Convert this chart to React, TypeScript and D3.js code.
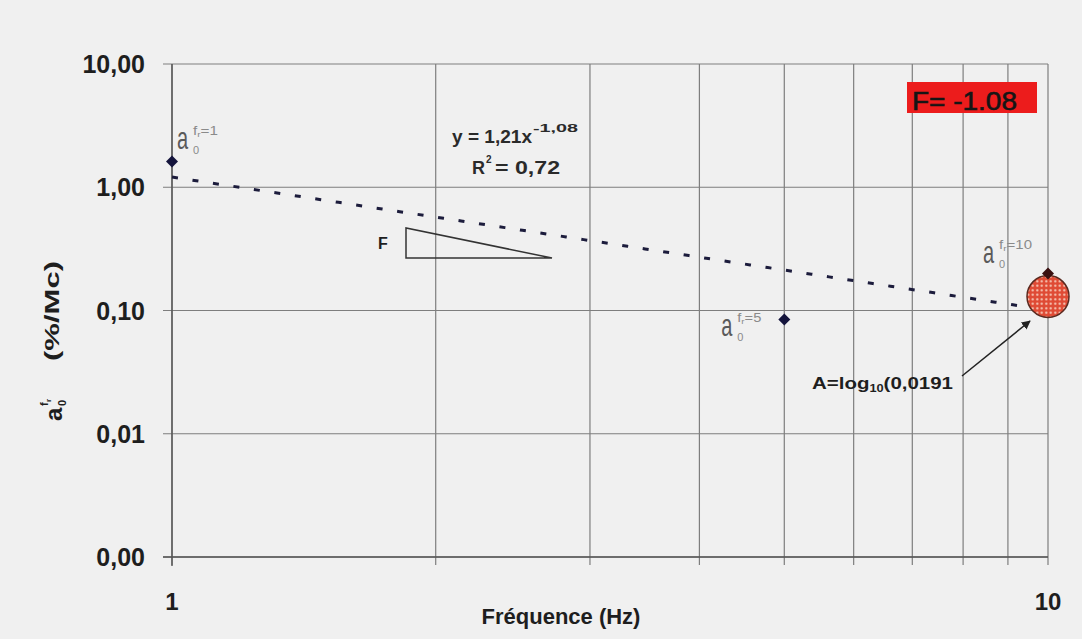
import React from "react";
import * as d3 from "d3";

const W = 1082;
const H = 639;

// Data
const frequencies = [1, 5, 10];
const amplitudes = [1.62, 0.0845, 0.2];
const pointLabels = ["1", "5", "10"];
const yTickValues = [10, 1, 0.1, 0.01, 0.001];
const yTickLabels = ["10,00", "1,00", "0,10", "0,01", "0,00"];
const xGridValues = [1, 2, 3, 4, 5, 6, 7, 8, 9, 10];
const xTickValues = [1, 10];
const xTickLabels = ["1", "10"];
const trendCoef = 1.21;
const trendExp = -1.08;
const circleValue = 0.13;

const FONT = "'Liberation Sans', Arial, sans-serif";

export default function App() {
  const left = 172, right = 1048, top = 64, bottom = 557;
  const x = d3.scaleLog().domain([1, 10]).range([left, right]);
  const y = d3.scaleLog().domain([0.001, 10]).range([bottom, top]);

  const trendX = d3.range(0, 101).map((i) => Math.pow(10, i / 100));
  const trendLine = d3
    .line<number>()
    .x((d) => x(d))
    .y((d) => y(trendCoef * Math.pow(d, trendExp)));

  // offset of the "a" label (left edge, baseline) relative to its point
  const labelOffsets: Record<string, [number, number]> = {
    "1": [5, -12],
    "5": [-63, 16],
    "10": [-65, -10],
  };
  const supWidths: Record<string, number> = { "1": 25, "5": 24, "10": 33 };

  const diamond = (cx: number, cy: number, r: number) =>
    `M${cx},${cy - r}L${cx + r},${cy}L${cx},${cy + r}L${cx - r},${cy}Z`;

  const cx10 = x(10);
  const cy10 = y(circleValue);

  return (
    <svg width={W} height={H} style={{ position: "absolute", left: 0, top: 0, display: "block" }}>
      <defs>
        <pattern id="dots" width="4.5" height="4.5" patternUnits="userSpaceOnUse">
          <rect width="4.5" height="4.5" fill="#df4a34" />
          <circle cx="2.25" cy="2.25" r="1.1" fill="#f7d0c0" />
        </pattern>
        <marker id="arr" viewBox="0 0 10 10" refX="9" refY="5" markerWidth="6" markerHeight="6" orient="auto">
          <path d="M0,0L10,5L0,10Z" fill="#222" />
        </marker>
      </defs>
      <rect width={W} height={H} fill="#f0f0f0" />

      {/* grid */}
      {yTickValues.map((v, i) => (
        <line key={"h" + i} x1={left - 9} x2={right} y1={y(v)} y2={y(v)} stroke="#7e7e7e" strokeWidth={1.2} />
      ))}
      {xGridValues.map((v, i) => (
        <line key={"v" + i} x1={x(v)} x2={x(v)} y1={top} y2={bottom + 8} stroke="#7e7e7e" strokeWidth={1.2} />
      ))}
      <line x1={left} x2={left} y1={top} y2={bottom + 9} stroke="#555" strokeWidth={1.4} />
      <line x1={left - 9} x2={right} y1={bottom} y2={bottom} stroke="#555" strokeWidth={1.4} />

      {/* y tick labels */}
      {yTickValues.map((v, i) => (
        <text key={"yt" + i} x={145} y={y(v) + 9} textAnchor="end" fontFamily={FONT} fontWeight="bold" fontSize={25} fill="#1e1e1e">
          {yTickLabels[i]}
        </text>
      ))}
      {/* x tick labels */}
      {xTickValues.map((v, i) => (
        <text key={"xt" + i} x={x(v)} y={610} textAnchor="middle" fontFamily={FONT} fontWeight="bold" fontSize={24} fill="#1e1e1e">
          {xTickLabels[i]}
        </text>
      ))}

      {/* axis titles */}
      <text x={561} y={624} textAnchor="middle" fontFamily={FONT} fontWeight="bold" fontSize={22} fill="#1e1e1e">
        Fréquence (Hz)
      </text>
      <g transform="translate(62,421) rotate(-90)" fontFamily={FONT} fontWeight="bold" fill="#1e1e1e">
        <text x={0} y={0} fontSize={24}>a</text>
        <text x={15} y={-14} fontSize={11}>f</text>
        <text x={19} y={-11} fontSize={8}>r</text>
        <text x={15} y={4} fontSize={11}>0</text>
        <text x={60} y={-3} fontSize={21} textLength={100} lengthAdjust="spacingAndGlyphs">(%/Mc)</text>
      </g>

      {/* trend line */}
      <path d={trendLine(trendX) || ""} fill="none" stroke="#1c1c3c" strokeWidth={3} strokeDasharray="6,14.7" />

      {/* triangle */}
      <path d="M406,228L406,258L552,258Z" fill="none" stroke="#333" strokeWidth={1.5} />
      <text x={378} y={249} fontFamily={FONT} fontWeight="bold" fontSize={16} fill="#1e1e1e">F</text>

      {/* equation */}
      <g fontFamily={FONT} fontWeight="bold" fill="#2a2a2a">
        <text x={452} y={143} fontSize={18} textLength={80} lengthAdjust="spacingAndGlyphs">y = 1,21x</text>
        <text x={533} y={132} fontSize={10} textLength={45} lengthAdjust="spacingAndGlyphs">-1,08</text>
        <text x={472} y={174} fontSize={18} textLength={13} lengthAdjust="spacingAndGlyphs">R</text>
        <text x={486} y={163} fontSize={10}>2</text>
        <text x={495} y={174} fontSize={18} textLength={65} lengthAdjust="spacingAndGlyphs">= 0,72</text>
      </g>

      {/* circle highlight */}
      <circle cx={cx10} cy={cy10} r={21} fill="url(#dots)" stroke="#5a2a20" strokeWidth={1.5} />

      {/* points */}
      {frequencies.map((f, i) => (
        <path key={"p" + i} d={diamond(x(f), y(amplitudes[i]), 6)} fill={i === 2 ? "#3a1010" : "#14143c"} />
      ))}

      {/* point labels */}
      {frequencies.map((f, i) => {
        const k = pointLabels[i];
        const [dx, dy] = labelOffsets[k];
        const ax = x(f) + dx;
        const ab = y(amplitudes[i]) + dy;
        return (
          <g key={"l" + i} fontFamily={FONT}>
            <g transform={`translate(${ax},${ab}) scale(1,1.6)`}>
              <text x={0} y={0} fontSize={20} fill="#5a5a5a">a</text>
            </g>
            <text x={ax + 16} y={ab + 5} fontSize={11} fill="#8a8a8a">0</text>
            <text x={ax + 16} y={ab - 14} fontSize={12} fill="#8a8a8a" textLength={supWidths[k]} lengthAdjust="spacingAndGlyphs">
              f<tspan fontSize={8} dy={2}>r</tspan>
              <tspan dy={-2}>{"=" + k}</tspan>
            </text>
          </g>
        );
      })}

      {/* F box */}
      <rect x={907} y={82} width={130} height={31} fill="#ec1c1c" />
      <text x={912} y={110} fontFamily={FONT} fontSize={25} fill="#151515" stroke="#151515" strokeWidth={0.6} textLength={105} lengthAdjust="spacingAndGlyphs">
        F= -1.08
      </text>

      {/* annotation */}
      <line x1={962} y1={376} x2={1030} y2={321} stroke="#222" strokeWidth={1.5} markerEnd="url(#arr)" />
      <text x={812} y={389} fontFamily={FONT} fontWeight="bold" fontSize={16} fill="#1e1e1e" textLength={141} lengthAdjust="spacingAndGlyphs">
        A=log<tspan fontSize={10} dy={3}>10</tspan>
        <tspan dy={-3}>(0,0191</tspan>
      </text>
    </svg>
  );
}
